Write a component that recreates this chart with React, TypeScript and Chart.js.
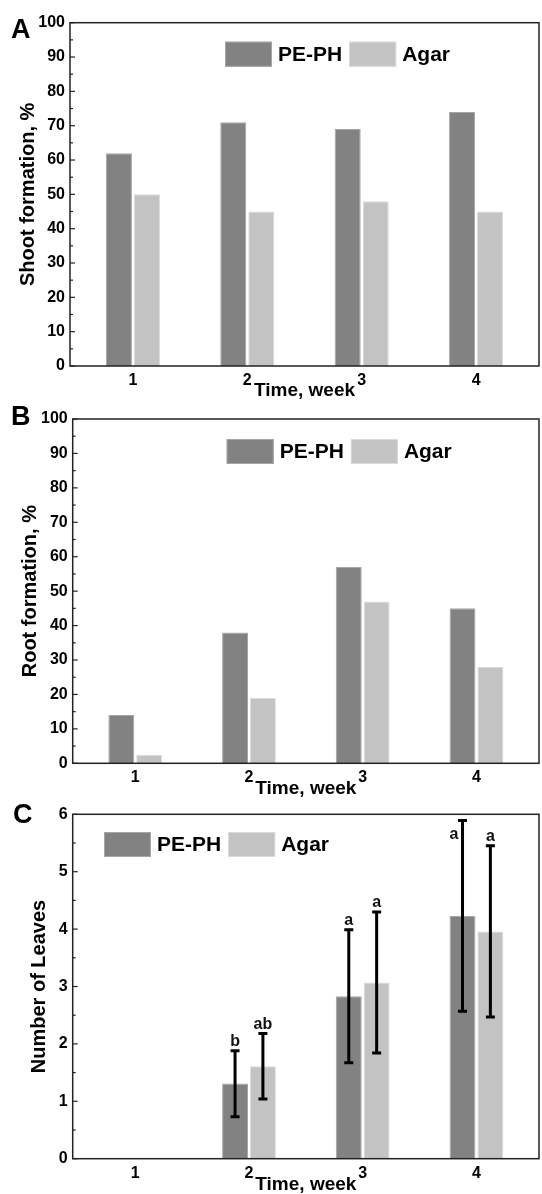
import React, { useEffect, useRef } from 'react';
import { Chart, registerables } from 'chart.js';

Chart.register(...registerables);

// ---------------- data ----------------
const weeks = [1, 2, 3, 4];
const seriesNames = ['PE-PH', 'Agar'];

const shootPEPH = [62, 71, 69, 74];
const shootAgar = [50, 45, 48, 45];

const rootPEPH = [14, 38, 57, 45];
const rootAgar = [2.5, 19, 47, 28];

const leavesPEPH = [null, 1.31, 2.83, 4.23];
const leavesAgar = [null, 1.61, 3.07, 3.96];
const leavesPEPHLow = [null, 0.73, 1.67, 2.57];
const leavesPEPHHigh = [null, 1.88, 3.99, 5.89];
const leavesAgarLow = [null, 1.04, 1.84, 2.47];
const leavesAgarHigh = [null, 2.18, 4.3, 5.45];
const leavesPEPHLetters = [null, 'b', 'a', 'a'];
const leavesAgarLetters = [null, 'ab', 'a', 'a'];

const percentMax = 100;
const percentStep = 10;
const leavesMax = 6;
const leavesStep = 1;

const xTitle = 'Time, week';
const panelLetters = ['A', 'B', 'C'];
const yTitles = ['Shoot formation, %', 'Root formation, %', 'Number of Leaves'];

// ---------------- styles ----------------
const FONT = '"Liberation Sans", Arial, Helvetica, sans-serif';
const DARK = '#828282';
const LIGHT = '#c3c3c3';
const DARK_EDGE = '#a6a6a6';
const LIGHT_EDGE = '#dadada';
const W = 542;

type PanelCfg = {
  letter: string;
  yTitle: string;
  height: number;
  plotTop: number;
  plotBottom: number;
  plotLeft: number;
  plotRight: number;
  yMax: number;
  yStep: number;
  yTitleCenter: number;
  xTitleOffset: number;
  legendX: number;
  legendY: number;
  letterX: number;
  letterY: number;
  a: (number | null)[];
  b: (number | null)[];
  errors?: {
    low: (number | null)[][];
    high: (number | null)[][];
    letters: (string | null)[][];
  };
};

function makeDecor(p: PanelCfg) {
  return {
    id: 'decor',
    afterDatasetsDraw(chart: any) {
      const ctx = chart.ctx as CanvasRenderingContext2D;
      const { left, top, right, bottom } = chart.chartArea;
      const ys = chart.scales.y;
      ctx.save();

      // error bars + significance letters
      if (p.errors) {
        chart.data.datasets.forEach((_ds: any, di: number) => {
          const meta = chart.getDatasetMeta(di);
          const lows = p.errors!.low[di];
          const highs = p.errors!.high[di];
          const letters = p.errors!.letters[di];
          meta.data.forEach((bar: any, j: number) => {
            const lo = lows[j];
            const hi = highs[j];
            if (lo == null || hi == null) return;
            const x = bar.x;
            const yl = ys.getPixelForValue(lo);
            const yh = ys.getPixelForValue(hi);
            ctx.strokeStyle = '#000';
            ctx.lineWidth = 3;
            ctx.beginPath();
            ctx.moveTo(x, yl);
            ctx.lineTo(x, yh);
            ctx.moveTo(x - 4.5, yl);
            ctx.lineTo(x + 4.5, yl);
            ctx.moveTo(x - 4.5, yh);
            ctx.lineTo(x + 4.5, yh);
            ctx.stroke();
            const t = letters[j];
            if (t) {
              ctx.fillStyle = '#111';
              ctx.font = `bold 16px ${FONT}`;
              ctx.textBaseline = 'alphabetic';
              const ty = yh - 5;
              if (ty - 12 < top) {
                ctx.textAlign = 'right';
                ctx.fillText(t, x - 4, top + 25);
              } else {
                ctx.textAlign = 'center';
                ctx.fillText(t, x, ty);
              }
            }
          });
        });
      }

      // frame
      ctx.strokeStyle = '#222';
      ctx.lineWidth = 1.5;
      ctx.strokeRect(left, top, right - left, bottom - top);

      // inner ticks on y axis
      ctx.lineWidth = 1.2;
      ys.ticks.forEach((tk: any) => {
        const y = ys.getPixelForValue(tk.value);
        ctx.beginPath();
        ctx.moveTo(left, y);
        ctx.lineTo(left + 5, y);
        ctx.stroke();
        const mid = tk.value + p.yStep / 2;
        if (mid < p.yMax) {
          const ym = ys.getPixelForValue(mid);
          ctx.beginPath();
          ctx.moveTo(left, ym);
          ctx.lineTo(left + 3, ym);
          ctx.stroke();
        }
      });

      // legend
      ctx.font = `bold 21px ${FONT}`;
      ctx.textAlign = 'left';
      ctx.textBaseline = 'middle';
      let lx = p.legendX;
      const bw = 47;
      const bh = 25;
      chart.data.datasets.forEach((ds: any) => {
        ctx.fillStyle = ds.backgroundColor;
        ctx.fillRect(lx, p.legendY, bw, bh);
        ctx.strokeStyle = ds.borderColor;
        ctx.lineWidth = 1;
        ctx.strokeRect(lx + 0.5, p.legendY + 0.5, bw - 1, bh - 1);
        ctx.fillStyle = '#000';
        const tx = lx + bw + 6;
        ctx.fillText(ds.label, tx, p.legendY + bh / 2 + 1);
        lx = tx + ctx.measureText(ds.label).width + 7;
      });

      // panel letter
      ctx.font = `bold 27px ${FONT}`;
      ctx.textBaseline = 'alphabetic';
      ctx.fillStyle = '#000';
      ctx.fillText(p.letter, p.letterX, p.letterY);

      ctx.restore();
    },
  };
}

function Panel({ cfg }: { cfg: PanelCfg }) {
  const ref = useRef<HTMLCanvasElement>(null);
  useEffect(() => {
    if (!ref.current) return;
    const p = cfg;
    const chart = new Chart(ref.current, {
      type: 'bar',
      data: {
        labels: weeks,
        datasets: [
          {
            label: seriesNames[0],
            data: p.a,
            backgroundColor: DARK,
            borderColor: DARK_EDGE,
            borderWidth: 1,
            categoryPercentage: 0.49,
            barPercentage: 0.93,
          },
          {
            label: seriesNames[1],
            data: p.b,
            backgroundColor: LIGHT,
            borderColor: LIGHT_EDGE,
            borderWidth: 1,
            categoryPercentage: 0.49,
            barPercentage: 0.93,
          },
        ] as any,
      },
      options: {
        responsive: false,
        animation: false,
        events: [],
        layout: {
          padding: { top: p.plotTop, right: W - p.plotRight, left: 0, bottom: 0 },
        },
        plugins: {
          legend: { display: false },
          tooltip: { enabled: false },
          title: { display: false },
        },
        scales: {
          x: {
            type: 'linear',
            min: 0.45,
            max: 4.55,
            offset: false,
            grid: { display: false, drawTicks: false },
            border: { display: false },
            afterBuildTicks: (s: any) => {
              s.ticks = weeks.map((v) => ({ value: v }));
            },
            afterFit: (s: any) => {
              s.height = p.height - p.plotBottom;
            },
            ticks: {
              padding: 5,
              color: '#000',
              font: { family: FONT, size: 16, weight: 'bold' },
              maxRotation: 0,
              callback: (v: any) => String(v),
            },
            title: {
              display: true,
              text: xTitle,
              color: '#000',
              font: { family: FONT, size: 19, weight: 'bold', lineHeight: 1 },
              padding: { top: p.xTitleOffset - 9.5, bottom: 0 },
            },
          },
          y: {
            type: 'linear',
            min: 0,
            max: p.yMax,
            grid: { display: false, drawTicks: false },
            border: { display: false },
            afterFit: (s: any) => {
              s.width = p.plotLeft;
            },
            ticks: {
              stepSize: p.yStep,
              padding: 5,
              color: '#000',
              font: { family: FONT, size: 16, weight: 'bold' },
            },
            title: {
              display: true,
              text: p.yTitle,
              color: '#000',
              font: { family: FONT, size: 20, weight: 'bold', lineHeight: 1 },
              padding: { top: p.yTitleCenter - 10, bottom: 0 },
            },
          },
        },
      } as any,
      plugins: [makeDecor(p)],
    });
    return () => chart.destroy();
  }, [cfg]);
  return (
    <canvas
      ref={ref}
      width={W}
      height={cfg.height}
      style={{ display: 'block', width: W, height: cfg.height }}
    />
  );
}

const panels: PanelCfg[] = [
  {
    letter: panelLetters[0],
    yTitle: yTitles[0],
    height: 400,
    plotTop: 22.7,
    plotBottom: 366,
    plotLeft: 70,
    plotRight: 539,
    yMax: percentMax,
    yStep: percentStep,
    yTitleCenter: 28.7,
    xTitleOffset: 7,
    legendX: 225,
    legendY: 41.7,
    letterX: 11,
    letterY: 38,
    a: shootPEPH,
    b: shootAgar,
  },
  {
    letter: panelLetters[1],
    yTitle: yTitles[1],
    height: 398,
    plotTop: 19,
    plotBottom: 363.3,
    plotLeft: 72.7,
    plotRight: 539,
    yMax: percentMax,
    yStep: percentStep,
    yTitleCenter: 30.5,
    xTitleOffset: 8,
    legendX: 226.7,
    legendY: 39,
    letterX: 11,
    letterY: 25,
    a: rootPEPH,
    b: rootAgar,
  },
  {
    letter: panelLetters[2],
    yTitle: yTitles[2],
    height: 396,
    plotTop: 16.3,
    plotBottom: 360.7,
    plotLeft: 72.7,
    plotRight: 539,
    yMax: leavesMax,
    yStep: leavesStep,
    yTitleCenter: 39,
    xTitleOffset: 5,
    legendX: 104,
    legendY: 34,
    letterX: 13,
    letterY: 25,
    a: leavesPEPH,
    b: leavesAgar,
    errors: {
      low: [leavesPEPHLow, leavesAgarLow],
      high: [leavesPEPHHigh, leavesAgarHigh],
      letters: [leavesPEPHLetters, leavesAgarLetters],
    },
  },
];

export default function App() {
  return (
    <div
      style={{
        position: 'absolute',
        top: 0,
        left: 0,
        width: W,
        height: 1194,
        background: '#fff',
        overflow: 'hidden',
      }}
    >
      {panels.map((p) => (
        <Panel key={p.letter} cfg={p} />
      ))}
    </div>
  );
}
